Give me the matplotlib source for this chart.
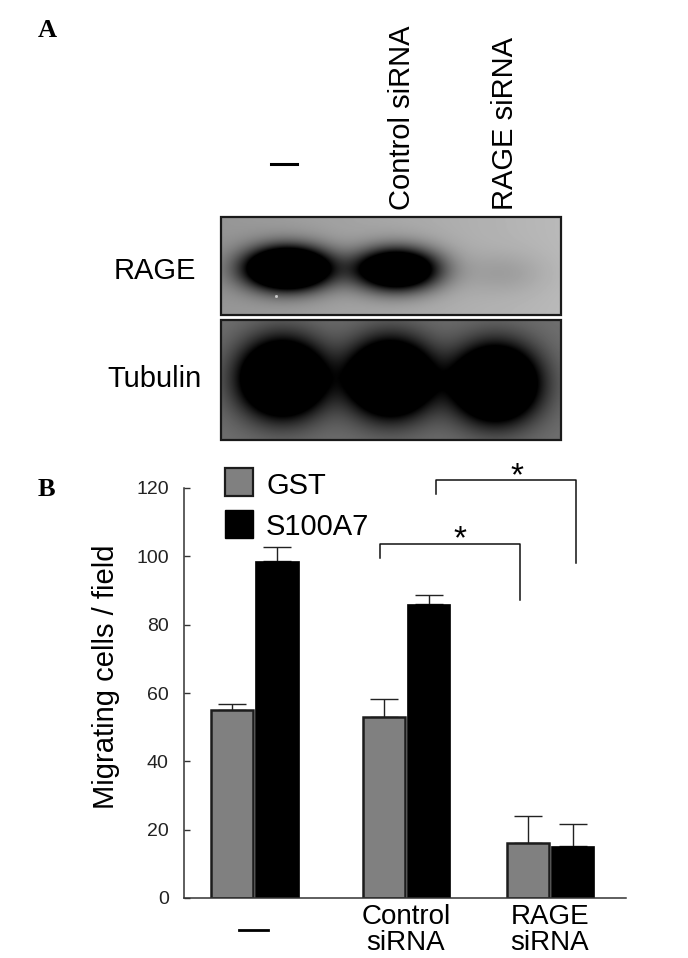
import numpy as np
import matplotlib
matplotlib.use('Agg')
import matplotlib.pyplot as plt
from matplotlib.patches import Rectangle

plt.rcParams['font.family'] = ['Liberation Sans', 'DejaVu Sans']

W, H = 688, 958

# chart values
groups = ['\u2014', 'Control\nsiRNA', 'RAGE\nsiRNA']
gst = [55, 53, 16]
s100a7 = [98.5, 86, 15.2]
gst_top = [56.8, 58.2, 24]
s100a7_top = [102.8, 88.6, 21.7]
yticks = [0, 20, 40, 60, 80, 100, 120]

# blot bands: darkness of each lane
rage_bands = [2.8, 2.1, 0.12]
tubulin_bands = [3.0, 3.0, 3.0]

fig = plt.figure(figsize=(W / 100, H / 100), dpi=100)

# overlay in pixel coords for the blot and the labels
ov = fig.add_axes([0, 0, 1, 1])
ov.axis('off')


def blot(x0, x1, y0, y1, centres, strengths, sx, sy, bg_l, bg_r):
    xx, yy = np.meshgrid(np.arange(x0, x1), np.arange(y0, y1))
    bg = bg_l + (bg_r - bg_l) * (xx - x0) / (x1 - x0)
    dark = np.zeros(xx.shape)
    for (cx, cy), s in zip(centres, strengths):
        r = ((xx - cx) / sx) ** 2 + ((yy - cy) / sy) ** 2
        dark += s * np.exp(-r)
    img = bg * (1 - np.clip(dark, 0, 1))
    ov.imshow(img, cmap='gray', vmin=0, vmax=255, extent=(x0, x1, y1, y0),
              aspect='auto', interpolation='bilinear', zorder=1)
    ov.add_patch(Rectangle((x0, y0), x1 - x0, y1 - y0, fill=False, ec='#1a1a1a', lw=1.6, zorder=2))


blot(221, 561, 217, 315, [(287, 268), (396, 269), (504, 273)], rage_bands, 40, 20, 150, 185)
blot(221, 561, 320, 440, [(282, 378), (390, 378), (495, 383)], tubulin_bands, 40, 36, 112, 112)
ov.plot([276], [296], 's', ms=1, color='#cccccc', zorder=3)

ov.set_xlim(0, W)
ov.set_ylim(H, 0)

ov.text(47, 30, 'A', family='Liberation Serif', weight='bold', fontsize=19, ha='center', va='center')
ov.text(46, 489, 'B', family='Liberation Serif', weight='bold', fontsize=19, ha='center', va='center')

ov.plot([271, 297], [164, 164], color='black', lw=2.2)
ov.text(402, 210, 'Control siRNA', rotation=90, fontsize=21, ha='center', va='bottom')
ov.text(505, 210, 'RAGE siRNA', rotation=90, fontsize=21, ha='center', va='bottom')
ov.text(155, 271, 'RAGE', fontsize=21, ha='center', va='center')
ov.text(154, 379, 'Tubulin', fontsize=21, ha='center', va='center')

# bar chart, x axis runs in figure pixels
ax = fig.add_axes([184 / W, 1 - 898 / H, 442 / W, 410 / H])
ax.patch.set_alpha(0)
ax.set_xlim(184, 626)
ax.set_ylim(0, 120)
centres = np.array([254.5, 406, 550])
bw = 43
ax.bar(centres - 22.5, gst, bw - 1, color='#808080', edgecolor='#1c1c1c', lw=1.8, zorder=2)
ax.bar(centres + 22.5, s100a7, bw, color='black', edgecolor='black', lw=0.5, zorder=2)
for c, v, t, v2, t2 in zip(centres, gst, gst_top, s100a7, s100a7_top):
    ax.errorbar(c - 22.5, v, yerr=[[0], [t - v]], color='#222222', lw=1, capsize=10, capthick=1, zorder=1)
    ax.errorbar(c + 22.5, v2, yerr=[[0], [t2 - v2]], color='#222222', lw=1, capsize=10, capthick=1, zorder=1)

for s in ['top', 'right']:
    ax.spines[s].set_visible(False)
for s in ['left', 'bottom']:
    ax.spines[s].set_color('#333333')
    ax.spines[s].set_linewidth(1.1)
ax.set_yticks(yticks)
ax.tick_params(axis='y', direction='in', length=4, width=1, color='#333333', labelsize=14,
               labelcolor='#222222', pad=11)
ax.set_xticks([])
ax.set_ylabel('Migrating cells / field', fontsize=21)
ax.yaxis.set_label_coords((120 - 184) / 442, (898 - 677) / 410)

# group labels, legend and brackets go on top
top = fig.add_axes([0, 0, 1, 1])
top.set_xlim(0, W)
top.set_ylim(H, 0)
top.axis('off')

top.plot([239, 268], [930, 930], color='black', lw=2)
top.text(406, 930, groups[1], fontsize=20, ha='center', va='center', linespacing=1.05)
top.text(550, 930, groups[2], fontsize=20, ha='center', va='center', linespacing=1.05)

top.add_patch(Rectangle((225, 468), 28, 28, fc='#808080', ec='#1c1c1c', lw=1.6))
top.add_patch(Rectangle((225, 510), 28, 28, fc='black', ec='black', lw=1))
top.text(266, 486, 'GST', fontsize=21, va='center')
top.text(266, 527, 'S100A7', fontsize=21, va='center')

top.plot([380, 380, 520, 520], [558, 544, 544, 600], color='#111111', lw=1.1)
top.plot([436, 436, 576, 576], [494, 480, 480, 563], color='#111111', lw=1.1)
top.text(460, 540, '*', fontsize=24, ha='center', va='center')
top.text(517, 477, '*', fontsize=24, ha='center', va='center')

fig.savefig('out.png', dpi=100)
